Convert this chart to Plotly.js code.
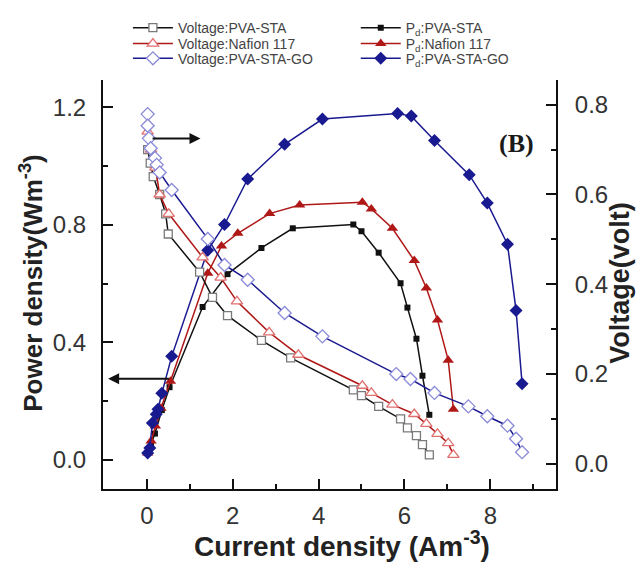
<!DOCTYPE html>
<html>
<head>
<meta charset="utf-8">
<script src="https://cdn.plot.ly/plotly-3.0.1.min.js"></script>
<style>html,body{margin:0;padding:0;background:#fff;}#chart{width:638px;height:563px;}</style>
</head>
<body>
<div id="chart"></div>
<script>
// ---- Data ----
// Voltage (right axis, volt) vs current density
const vStaX = [0.02, 0.08, 0.15, 0.30, 0.44, 0.50, 1.23, 1.53, 1.88, 2.67, 3.35, 4.81, 5.00, 5.40, 5.91, 6.07, 6.28, 6.42, 6.58];
const vStaY = [0.70, 0.67, 0.64, 0.60, 0.557, 0.512, 0.427, 0.371, 0.33, 0.275, 0.236, 0.165, 0.152, 0.128, 0.10, 0.08, 0.063, 0.043, 0.02];

const vNafX = [0.02, 0.10, 0.20, 0.30, 0.51, 1.30, 1.72, 2.10, 2.85, 3.53, 5.02, 5.23, 5.72, 6.23, 6.51, 6.77, 7.02, 7.14];
const vNafY = [0.74, 0.70, 0.66, 0.60, 0.557, 0.46, 0.415, 0.362, 0.293, 0.243, 0.174, 0.158, 0.132, 0.111, 0.089, 0.067, 0.046, 0.02];

const vGoX = [0.02, 0.02, 0.05, 0.09, 0.19, 0.23, 0.30, 0.58, 1.42, 1.81, 2.35, 3.21, 4.09, 5.81, 6.14, 6.70, 7.49, 7.93, 8.40, 8.60, 8.74];
const vGoY = [0.779, 0.753, 0.725, 0.703, 0.681, 0.666, 0.649, 0.610, 0.501, 0.443, 0.41, 0.336, 0.284, 0.20, 0.189, 0.158, 0.128, 0.106, 0.085, 0.056, 0.026];

// Power density (left axis, W m^-3) vs current density
const pStaX = [0.02, 0.10, 0.19, 0.35, 0.53, 1.30, 1.88, 2.67, 3.40, 4.81, 5.00, 5.40, 5.91, 6.07, 6.28, 6.42, 6.58];
const pStaY = [0.023, 0.054, 0.089, 0.169, 0.247, 0.52, 0.632, 0.721, 0.788, 0.801, 0.778, 0.705, 0.601, 0.518, 0.412, 0.286, 0.153];

const pNafX = [0.02, 0.10, 0.20, 0.33, 0.55, 1.42, 1.74, 2.12, 2.86, 3.56, 5.02, 5.23, 5.72, 6.23, 6.51, 6.77, 7.02, 7.14];
const pNafY = [0.023, 0.064, 0.115, 0.175, 0.267, 0.635, 0.728, 0.771, 0.838, 0.867, 0.877, 0.854, 0.788, 0.678, 0.585, 0.476, 0.339, 0.172];

const pGoX = [0.02, 0.07, 0.13, 0.22, 0.26, 0.35, 0.58, 1.42, 1.81, 2.35, 3.21, 4.09, 5.84, 6.16, 6.70, 7.51, 7.93, 8.40, 8.60, 8.74];
const pGoY = [0.023, 0.04, 0.125, 0.155, 0.172, 0.226, 0.352, 0.713, 0.801, 0.956, 1.074, 1.16, 1.179, 1.17, 1.087, 0.970, 0.874, 0.734, 0.508, 0.259];

const legendNames = {
  vSta: 'Voltage:PVA-STA', vNaf: 'Voltage:Nafion 117', vGo: 'Voltage:PVA-STA-GO',
  pSta: 'P<sub>d</sub>:PVA-STA', pNaf: 'P<sub>d</sub>:Nafion 117', pGo: 'P<sub>d</sub>:PVA-STA-GO'
};
const xTitle = 'Current density (Am<sup>-3</sup>)';
const yTitle = 'Power density(Wm<sup>-3</sup>)';
const y2Title = 'Voltage(volt)';
const panelLabel = '(B)';

// indicator arrows: [headX, headY, tailX, tailY] on left-axis scale
const arrowToLeft = [-0.9, 0.276, 0.55, 0.276];
const arrowToRight = [1.25, 1.094, 0.1, 1.094];

const cBlack = '#111111', cRed = '#b01818', cBlue = '#1a1a90';

function vTrace(x, y, name, color, symbol, mcolor, size, leg) {
  return {x, y, name, type: 'scatter', mode: 'lines+markers', yaxis: 'y2', legend: leg,
    line: {color, width: 1.5},
    marker: {symbol, size, color: '#ffffff', line: {color: mcolor, width: 1.3}}};
}
function pTrace(x, y, name, color, symbol, size, leg) {
  return {x, y, name, type: 'scatter', mode: 'lines+markers', yaxis: 'y', legend: leg,
    line: {color, width: 1.5},
    marker: {symbol, size, color, line: {color, width: 0}}};
}

const traces = [
  vTrace(vStaX, vStaY, legendNames.vSta, cBlack, 'square', '#7a7a7a', 8, 'legend'),
  vTrace(vNafX, vNafY, legendNames.vNaf, cRed, 'triangle-up', '#e07070', 10, 'legend2'),
  vTrace(vGoX, vGoY, legendNames.vGo, cBlue, 'diamond', '#8a8ad8', 10, 'legend3'),
  pTrace(pStaX, pStaY, legendNames.pSta, cBlack, 'square', 6, 'legend4'),
  pTrace(pNafX, pNafY, legendNames.pNaf, cRed, 'triangle-up', 10, 'legend5'),
  pTrace(pGoX, pGoY, legendNames.pGo, cBlue, 'diamond', 10, 'legend6')
];

const FAM = 'Liberation Sans, Arial, sans-serif';
const tickFont = {family: FAM, size: 24, color: '#333333'};
const legFont = {family: FAM, size: 14, color: '#444444'};

function arrowAnn(a) {
  return {x: a[0], y: a[1], ax: a[2], ay: a[3], xref: 'x', yref: 'y', axref: 'x', ayref: 'y',
    text: '', showarrow: true, arrowhead: 2, arrowsize: 1.1, arrowwidth: 2, arrowcolor: '#111'};
}
function leg(x, y) {
  return {x, y, xanchor: 'left', yanchor: 'middle', orientation: 'v',
    bgcolor: 'rgba(0,0,0,0)', font: legFont, itemwidth: 40, tracegroupgap: 0};
}
const rowY = [1.127, 1.088, 1.052];
const colX = [0.055, 0.558];

const layout = {
  width: 638, height: 563,
  margin: {l: 103, r: 82, t: 70, b: 74},
  paper_bgcolor: '#ffffff', plot_bgcolor: '#ffffff',
  showlegend: true,
  xaxis: {
    range: [-1.02, 9.53], tick0: 0, dtick: 2, tickformat: 'd',
    showline: true, linecolor: '#111', linewidth: 2, mirror: false,
    ticks: 'inside', ticklen: 10, tickwidth: 2, tickcolor: '#111',
    minor: {tick0: 0, dtick: 1, ticks: 'inside', ticklen: 5, tickwidth: 2, tickcolor: '#111'},
    showgrid: false, zeroline: false, tickfont: tickFont, ticklabelstandoff: 4,
    automargin: false
  },
  yaxis: {
    range: [-0.0997, 1.293], tick0: 0, dtick: 0.4, tickformat: '.1f',
    showline: true, linecolor: '#111', linewidth: 2,
    ticks: 'inside', ticklen: 10, tickwidth: 2, tickcolor: '#111',
    minor: {tick0: 0, dtick: 0.2, ticks: 'inside', ticklen: 5, tickwidth: 2, tickcolor: '#111'},
    showgrid: false, zeroline: false, tickfont: tickFont, ticklabelstandoff: 10,
    automargin: false
  },
  yaxis2: {
    overlaying: 'y', side: 'right',
    range: [-0.056, 0.855], tick0: 0, dtick: 0.2, tickformat: '.1f',
    showline: true, linecolor: '#111', linewidth: 2,
    ticks: 'inside', ticklen: 10, tickwidth: 2, tickcolor: '#111',
    minor: {tick0: 0, dtick: 0.1, ticks: 'inside', ticklen: 5, tickwidth: 2, tickcolor: '#111'},
    showgrid: false, zeroline: false, tickfont: tickFont, ticklabelstandoff: 12,
    automargin: false
  },
  legend: leg(colX[0], rowY[0]),
  legend2: leg(colX[0], rowY[1]),
  legend3: leg(colX[0], rowY[2]),
  legend4: leg(colX[1], rowY[0]),
  legend5: leg(colX[1], rowY[1]),
  legend6: leg(colX[1], rowY[2]),
  annotations: [
    arrowAnn(arrowToLeft), arrowAnn(arrowToRight),
    {xref: 'paper', yref: 'paper', x: 0.955, y: 0.885, text: panelLabel, showarrow: false,
      font: {family: 'Liberation Serif, Times New Roman, serif', size: 26, color: '#1a1a1a', weight: 'bold'}},
    {xref: 'paper', yref: 'paper', x: 0.528, y: -0.134, xanchor: 'center', yanchor: 'middle',
      text: xTitle, showarrow: false,
      font: {family: FAM, size: 28, color: '#222', weight: 'bold'}},
    {xref: 'paper', yref: 'paper', x: -0.157, y: 0.504, xanchor: 'center', yanchor: 'middle',
      text: yTitle, textangle: -90, showarrow: false,
      font: {family: FAM, size: 26, color: '#222', weight: 'bold'}},
    {xref: 'paper', yref: 'paper', x: 1.142, y: 0.505, xanchor: 'center', yanchor: 'middle',
      text: y2Title, textangle: -90, showarrow: false,
      font: {family: FAM, size: 27, color: '#222', weight: 'bold'}}
  ]
};

Plotly.newPlot('chart', traces, layout, {displayModeBar: false, staticPlot: true});
</script>
</body>
</html>
